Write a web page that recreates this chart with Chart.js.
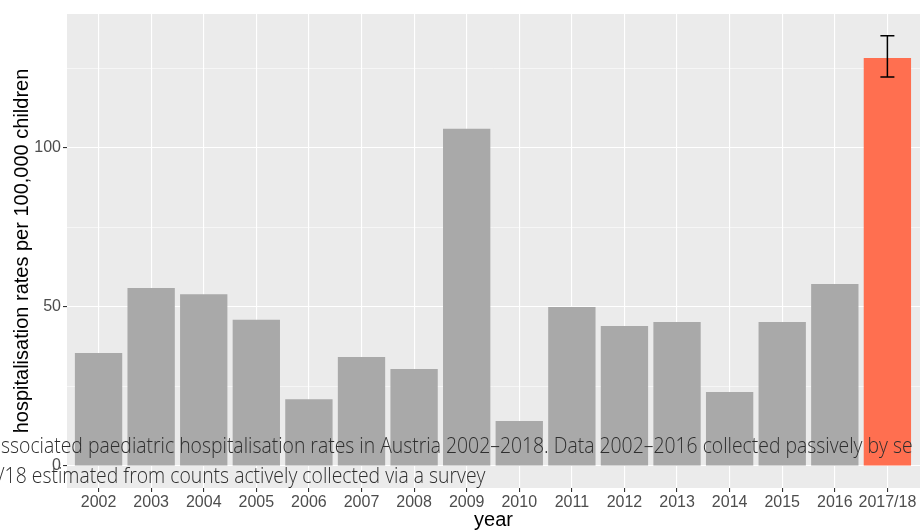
<!DOCTYPE html>
<html>
<head>
<meta charset="utf-8">
<script src="https://cdn.jsdelivr.net/npm/chart.js@4.4.1/dist/chart.umd.min.js"></script>
<style>
  html, body { margin: 0; padding: 0; background: #ffffff; overflow: hidden; }
  canvas { display: block; }
</style>
</head>
<body>
<canvas id="chart" width="920" height="531"></canvas>
<script>
// Seasons on the x axis
const years = ['2002', '2003', '2004', '2005', '2006', '2007', '2008', '2009',
               '2010', '2011', '2012', '2013', '2014', '2015', '2016', '2017/18'];

// Hospitalisation rates per 100,000 children
const rates = [35.5, 56.0, 54.0, 46.0, 21.0, 34.3, 30.5, 106.0,
               14.2, 50.0, 44.0, 45.3, 23.3, 45.3, 57.2, 128.3];

// Uncertainty interval (only for the survey-based estimate)
const ciLow  = [null, null, null, null, null, null, null, null,
                null, null, null, null, null, null, null, 122.3];
const ciHigh = [null, null, null, null, null, null, null, null,
                null, null, null, null, null, null, null, 135.3];

// Survey-based seasons are highlighted
const surveyBased = [false, false, false, false, false, false, false, false,
                     false, false, false, false, false, false, false, true];

// Y grid: major lines are labelled, minor ones are not
const yGridValues = [0, 25, 50, 75, 100, 125];
const yTickLabels = [0, 50, 100];

const captionLines = [
  'ssociated paediatric hospitalisation rates in Austria 2002\u20132018. Data 2002\u20132016 collected passively by se',
  '/18 estimated from counts actively collected via a survey'
];

const PANEL_BG = '#EBEBEB';
const BAR_GREY = '#A9A9A9';
const BAR_SURVEY = '#FF6F50';

const panelBackground = {
  id: 'panelBackground',
  beforeDraw(chart) {
    const { ctx, chartArea: a } = chart;
    ctx.save();
    ctx.fillStyle = PANEL_BG;
    ctx.fillRect(a.left, a.top, a.right - a.left, a.bottom - a.top);
    ctx.restore();
  }
};

const errorBars = {
  id: 'errorBars',
  afterDatasetsDraw(chart) {
    const { ctx, scales: { x, y } } = chart;
    ctx.save();
    ctx.strokeStyle = '#000000';
    ctx.lineWidth = 1.5;
    for (let i = 0; i < years.length; i++) {
      if (ciLow[i] == null || ciHigh[i] == null) continue;
      const px = x.getPixelForValue(i);
      const yLo = y.getPixelForValue(ciLow[i]);
      const yHi = y.getPixelForValue(ciHigh[i]);
      const half = 7;
      ctx.beginPath();
      ctx.moveTo(px, yLo); ctx.lineTo(px, yHi);
      ctx.moveTo(px - half, yLo); ctx.lineTo(px + half, yLo);
      ctx.moveTo(px - half, yHi); ctx.lineTo(px + half, yHi);
      ctx.stroke();
    }
    ctx.restore();
  }
};

const caption = {
  id: 'caption',
  afterDraw(chart) {
    const { ctx } = chart;
    ctx.save();
    ctx.font = '300 22px "Open Sans"';
    ctx.fillStyle = '#2e2e2e';
    ctx.textBaseline = 'alphabetic';
    ctx.textAlign = 'left';
    const lead = captionLines[0].slice(0, captionLines[0].length - 2);
    const sx = 892 / ctx.measureText(lead).width;
    ctx.scale(sx, 1);
    ctx.fillText(captionLines[0], 1 / sx, 453);
    ctx.fillText(captionLines[1], -2 / sx, 483);
    ctx.restore();
  }
};

const tickFont = { family: '"Liberation Sans", Arial, sans-serif', size: 16 };
const titleFont = { family: '"Liberation Sans", Arial, sans-serif', size: 20 };

new Chart(document.getElementById('chart'), {
  type: 'bar',
  data: {
    datasets: [{
      data: rates.map((v, i) => ({ x: i, y: v })),
      backgroundColor: ctx => surveyBased[ctx.dataIndex] ? BAR_SURVEY : BAR_GREY,
      borderWidth: 0,
      barPercentage: 0.9,
      categoryPercentage: 1.0
    }]
  },
  options: {
    responsive: false,
    animation: false,
    devicePixelRatio: 1,
    layout: { padding: { top: 14, left: 0, right: 0, bottom: 0 } },
    plugins: { legend: { display: false }, tooltip: { enabled: false } },
    scales: {
      x: {
        type: 'linear',
        min: -0.6,
        max: 15.62,
        offset: false,
        afterBuildTicks: s => { s.ticks = years.map((_, i) => ({ value: i })); },
        afterFit: s => { s.height = 43; },
        ticks: {
          callback: v => years[v] ?? '',
          color: '#4D4D4D',
          font: tickFont,
          padding: 1,
          autoSkip: false,
          maxRotation: 0,
          includeBounds: false
        },
        grid: { offset: false, color: '#FFFFFF', lineWidth: 1.1, tickLength: 4, tickColor: '#333333' },
        border: { display: false },
        title: { display: true, text: 'year', color: '#000000', font: titleFont, padding: { top: 0, bottom: -1 } }
      },
      y: {
        min: -6.9,
        max: 142.1,
        afterBuildTicks: s => { s.ticks = yGridValues.map(v => ({ value: v })); },
        afterFit: s => { s.width = 67; },
        ticks: {
          callback: v => yTickLabels.includes(v) ? String(v) : '',
          color: '#4D4D4D',
          font: tickFont,
          padding: 2
        },
        grid: {
          color: '#FFFFFF',
          lineWidth: c => yTickLabels.includes(c.tick && c.tick.value) ? 1.1 : 0.55,
          tickLength: 4,
          tickColor: c => yTickLabels.includes(c.tick && c.tick.value) ? '#333333' : 'rgba(0,0,0,0)'
        },
        border: { display: false },
        title: {
          display: true,
          text: 'hospitalisation rates per 100,000 children',
          color: '#000000',
          font: titleFont,
          padding: { top: 10, bottom: 0 }
        }
      }
    }
  },
  plugins: [panelBackground, errorBars, caption]
});
</script>
</body>
</html>
